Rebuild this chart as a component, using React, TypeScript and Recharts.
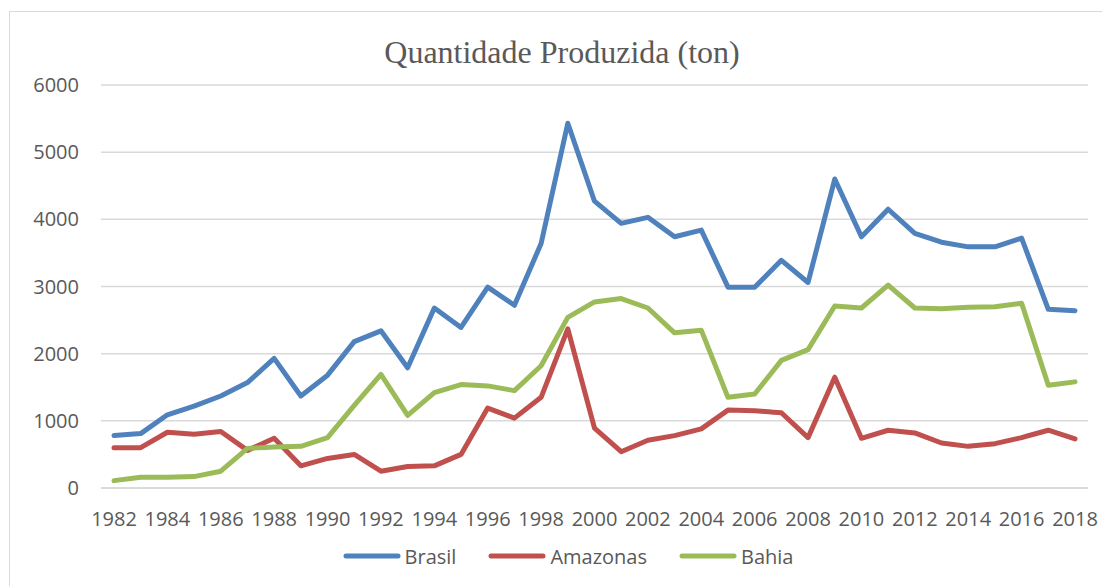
import { LineChart, Line, XAxis, YAxis, CartesianGrid, Legend } from "recharts";

const ANOS = [
  "1982", "1983", "1984", "1985", "1986", "1987", "1988", "1989", "1990", "1991",
  "1992", "1993", "1994", "1995", "1996", "1997", "1998", "1999", "2000", "2001",
  "2002", "2003", "2004", "2005", "2006", "2007", "2008", "2009", "2010", "2011",
  "2012", "2013", "2014", "2015", "2016", "2017", "2018",
];

const BRASIL = [
  780, 810, 1090, 1220, 1370, 1570, 1930, 1370, 1680, 2180,
  2340, 1790, 2680, 2390, 2990, 2720, 3640, 5430, 4270, 3940,
  4030, 3740, 3840, 2990, 2990, 3390, 3060, 4600, 3740, 4150,
  3790, 3660, 3590, 3590, 3720, 2660, 2640,
];

const AMAZONAS = [
  600, 600, 830, 800, 840, 560, 740, 330, 440, 500,
  250, 320, 330, 500, 1190, 1040, 1350, 2370, 890, 540,
  710, 780, 880, 1160, 1150, 1120, 750, 1650, 740, 860,
  820, 670, 620, 660, 750, 860, 730,
];

const BAHIA = [
  110, 160, 160, 170, 250, 590, 610, 620, 750, 1230,
  1690, 1080, 1420, 1540, 1520, 1450, 1820, 2540, 2770, 2820,
  2680, 2310, 2350, 1350, 1400, 1900, 2060, 2710, 2680, 3020,
  2680, 2670, 2690, 2700, 2750, 1530, 1580,
];

const Y_TICKS = [0, 1000, 2000, 3000, 4000, 5000, 6000];

const SERIES = [
  { key: "Brasil", cor: "#4f81bd" },
  { key: "Amazonas", cor: "#c0504d" },
  { key: "Bahia", cor: "#9bbb59" },
];

const dados = ANOS.map((ano, i) => ({
  ano,
  Brasil: BRASIL[i],
  Amazonas: AMAZONAS[i],
  Bahia: BAHIA[i],
}));

const FONTE = "'Open Sans', sans-serif";
const TEXTO = "#595959";
const GRADE = "#d9d9d9";

function Legenda() {
  return (
    <div
      style={{
        display: "flex",
        justifyContent: "center",
        alignItems: "center",
        height: 36,
        paddingLeft: 40,
        fontFamily: FONTE,
        fontSize: 20,
        color: TEXTO,
      }}
    >
      {SERIES.map((s) => (
        <div key={s.key} style={{ display: "flex", alignItems: "center", margin: "0 16px" }}>
          <svg width={58} height={8} style={{ marginRight: 4 }}>
            <line x1={3} y1={4} x2={55} y2={4} stroke={s.cor} strokeWidth={5} strokeLinecap="round" />
          </svg>
          <span>{s.key}</span>
        </div>
      ))}
    </div>
  );
}

export default function App() {
  return (
    <div
      style={{
        position: "fixed",
        left: 8,
        top: 8,
        width: 1094,
        height: 578,
        overflow: "hidden",
        background: "#fff",
      }}
    >
      <div
        style={{
          position: "absolute",
          left: 1,
          top: 3,
          width: 1200,
          height: 700,
          border: `1px solid ${GRADE}`,
        }}
      />
      <div
        style={{
          position: "absolute",
          left: 0,
          top: 26,
          width: 1094,
          paddingLeft: 14,
          boxSizing: "border-box",
          textAlign: "center",
          fontFamily: "'Liberation Serif', 'Times New Roman', serif",
          fontSize: 32,
          color: TEXTO,
        }}
      >
        Quantidade Produzida (ton)
      </div>
      <LineChart
        width={1094}
        height={578}
        data={dados}
        margin={{ top: 77, right: 14, bottom: 0, left: 0 }}
        style={{ position: "absolute", left: 0, top: 0 }}
      >
        <CartesianGrid vertical={false} stroke={GRADE} strokeWidth={1.5} />
        <XAxis
          dataKey="ano"
          interval={1}
          padding={{ left: 13, right: 13 }}
          tickLine={false}
          tickSize={0}
          tickMargin={24}
          axisLine={{ stroke: GRADE, strokeWidth: 1.5 }}
          height={50}
          tick={{ fontFamily: FONTE, fontSize: 20, fill: TEXTO }}
        />
        <YAxis
          domain={[0, 6000]}
          ticks={Y_TICKS}
          width={93}
          axisLine={false}
          tickLine={false}
          tickSize={0}
          tickMargin={22}
          tick={{ fontFamily: FONTE, fontSize: 20, fill: TEXTO }}
        />
        <Legend verticalAlign="bottom" height={48} content={() => <Legenda />} />
        {SERIES.map((s) => (
          <Line
            key={s.key}
            type="linear"
            dataKey={s.key}
            stroke={s.cor}
            strokeWidth={5}
            strokeLinejoin="round"
            strokeLinecap="round"
            dot={false}
            isAnimationActive={false}
          />
        ))}
      </LineChart>
    </div>
  );
}
